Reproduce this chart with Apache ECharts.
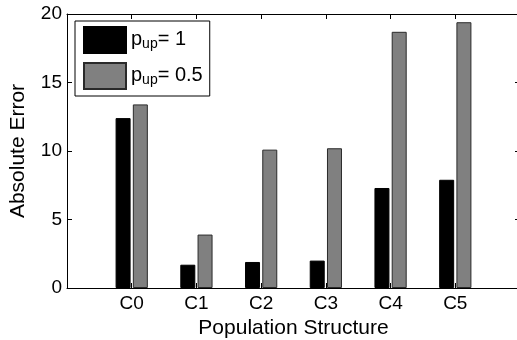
<!DOCTYPE html>
<html>
<head>
<meta charset="utf-8">
<script src="https://cdn.jsdelivr.net/npm/echarts@6/dist/echarts.min.js"></script>
<style>
    html, body {margin: 0; padding: 0; background: #fff;}
    #chart {width: 517px; height: 340px;}
</style>
</head>
<body>
<div id="chart"></div>
<script>
    // categories sit at x = 1..6, axis runs 0..7 like the matlab figure
    const categories = ['C0', 'C1', 'C2', 'C3', 'C4', 'C5'];
    const positions = [1, 2, 3, 4, 5, 6];
    const pup1 = [12.4, 1.7, 1.9, 2.0, 7.3, 7.9];
    const pup05 = [13.4, 3.9, 10.1, 10.2, 18.7, 19.4];
    const yTicks = [0, 5, 10, 15, 20];

    const font = 'Liberation Sans, Arial, sans-serif';

    const chartDom = document.getElementById('chart');
    const myChart = echarts.init(chartDom);

    const pairs = (vals) => vals.map((v, i) => [positions[i], v]);

    const labelFor = (v) => {
        const i = positions.indexOf(v);
        return i >= 0 ? categories[i] : '';
    };

    const tick = () => ({show: true, inside: true, length: 5, lineStyle: {color: '#000', width: 1}});
    const line = () => ({show: true, onZero: false, lineStyle: {color: '#000', width: 1}});

    const option = {
        backgroundColor: '#fff',
        animation: false,
        grid: {left: 67, right: -3, top: 14, bottom: 52, outerBoundsMode: 'none', containLabel: false},
        legend: {
            left: 75,
            top: 21,
            orient: 'vertical',
            itemWidth: 42,
            itemHeight: 26,
            itemGap: 8,
            padding: [5, 7, 6, 8],
            borderColor: '#000',
            borderWidth: 1,
            backgroundColor: '#fff',
            icon: 'rect',
            data: ['p1', 'p05'],
            formatter: (name) => name === 'p1' ? '{p|p}{s|up}{t|= 1}' : '{p|p}{s|up}{t|= 0.5}',
            textStyle: {
                rich: {
                    p: {fontFamily: font, fontSize: 20, lineHeight: 22, verticalAlign: 'top', color: '#000'},
                    s: {fontFamily: font, fontSize: 14, lineHeight: 16, verticalAlign: 'bottom', color: '#000'},
                    t: {fontFamily: font, fontSize: 20, lineHeight: 22, verticalAlign: 'top', color: '#000'}
                }
            }
        },
        xAxis: [
            {
                type: 'value',
                position: 'bottom',
                min: 0,
                max: 7,
                interval: 1,
                axisLine: line(),
                axisTick: tick(),
                splitLine: {show: false},
                name: 'Population Structure',
                nameLocation: 'middle',
                nameGap: 28,
                nameTextStyle: {fontFamily: font, fontSize: 21, color: '#000'},
                axisLabel: {
                    fontFamily: font, fontSize: 19, color: '#000', margin: 6,
                    formatter: labelFor
                }
            },
            {
                type: 'value',
                position: 'top',
                min: 0,
                max: 7,
                interval: 1,
                axisLine: line(),
                axisTick: tick(),
                splitLine: {show: false},
                axisLabel: {show: false}
            }
        ],
        yAxis: [
            {
                type: 'value',
                position: 'left',
                min: yTicks[0],
                max: yTicks[yTicks.length - 1],
                interval: 5,
                axisLine: line(),
                axisTick: tick(),
                splitLine: {show: false},
                name: 'Absolute Error',
                nameLocation: 'middle',
                nameRotate: 90,
                nameGap: 38,
                nameTextStyle: {fontFamily: font, fontSize: 21, color: '#000'},
                axisLabel: {fontFamily: font, fontSize: 19, color: '#000', margin: 5}
            },
            {
                type: 'value',
                position: 'right',
                min: 0,
                max: 20,
                interval: 5,
                axisLine: line(),
                axisTick: tick(),
                splitLine: {show: false},
                axisLabel: {show: false}
            }
        ],
        series: [
            {
                name: 'p1',
                type: 'bar',
                data: pairs(pup1),
                barWidth: 15,
                barGap: '15%',
                itemStyle: {color: '#000', borderColor: '#000', borderWidth: 1}
            },
            {
                name: 'p05',
                type: 'bar',
                data: pairs(pup05),
                barWidth: 15,
                itemStyle: {color: '#808080', borderColor: '#2a2a2a', borderWidth: 1}
            }
        ]
    };

    myChart.setOption(option);
</script>
</body>
</html>
